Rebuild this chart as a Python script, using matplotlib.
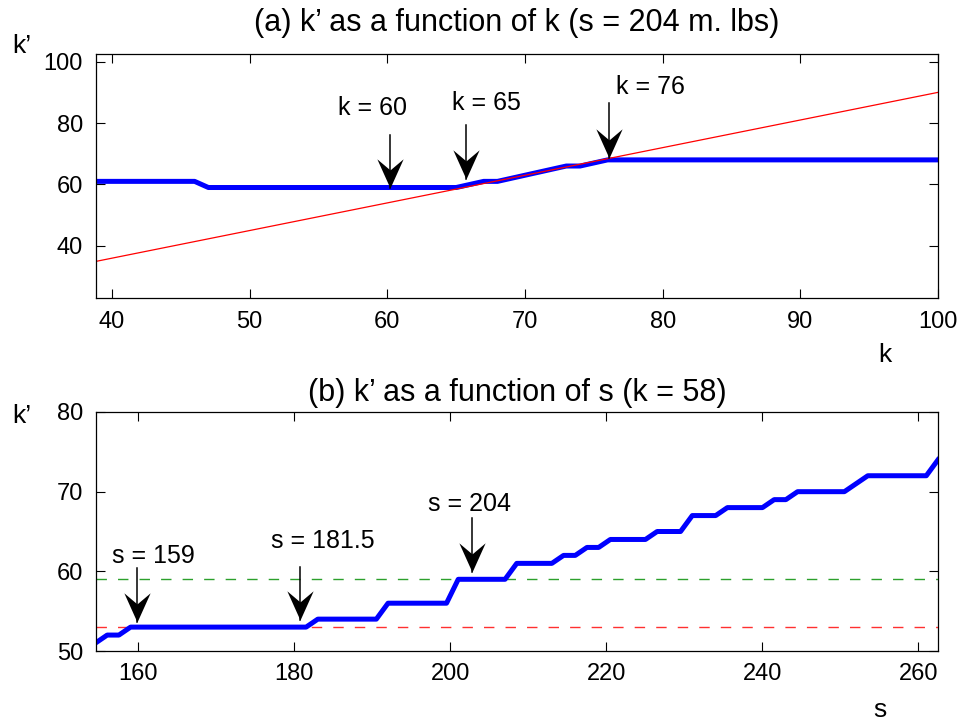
import matplotlib
matplotlib.use("Agg")
import matplotlib.pyplot as plt
from matplotlib.path import Path

plt.rcParams['font.family'] = ['Liberation Sans', 'DejaVu Sans']

# === (a) k' as a function of k ===
k_a = [38.8, 46, 47, 65, 66, 67, 68, 69, 70, 71, 72, 73, 74, 75, 76, 100]
kp_a = [61, 61, 59, 59, 60, 61, 61, 62, 63, 64, 65, 66, 66, 67, 68, 68]
red_k = [38.8, 100]
red_kp = [34.9, 90]

# annotations: (label, arrow x, tail y, tip y, text x, text y)
notes_a = [
    ("k = 60", 60.2, 76.1, 58.7, 58.9, 84.8),
    ("k = 65", 65.7, 79.4, 61.7, 67.2, 86.4),
    ("k = 76", 76.1, 86.4, 68.5, 79.1, 91.8),
]

# === (b) k' as a function of s ===
s_b = [154.5, 156, 157.5, 159, 181.5, 183, 190.5, 192, 199.5, 201, 207, 208.5,
       213, 214.5, 216, 217.5, 219, 220.5, 225, 226.5, 229.5, 231, 234, 235.5,
       240, 241.5, 243, 244.5, 250.5, 253.5, 261, 262.5]
kp_b = [51, 52, 52, 53, 53, 54, 54, 56, 56, 59, 59, 61, 61, 62, 62, 63, 63, 64,
        64, 65, 65, 67, 67, 68, 68, 69, 69, 70, 70, 72, 72, 74]
green_level = 59
red_level = 53

notes_b = [
    ("s = 159", 159.8, 60.4, 53.7, 161.9, 61.9),
    ("s = 181.5", 180.7, 60.6, 53.9, 183.7, 63.8),
    ("s = 204", 202.7, 66.7, 59.9, 202.5, 68.5),
]

W, H = 963, 725
fig = plt.figure(figsize=(W / 100, H / 100), dpi=100)

ax1 = fig.add_axes([95.5 / W, 1 - 298 / H, 842.5 / W, 244 / H])
ax2 = fig.add_axes([95.5 / W, 1 - 651 / H, 842.5 / W, 239 / H])

# arrow head with a notched back, tip at the origin pointing down
head = Path([(0, 0), (-0.45, 1), (0, 0.62), (0.45, 1), (0, 0)],
            [Path.MOVETO, Path.LINETO, Path.LINETO, Path.LINETO, Path.CLOSEPOLY])


def style(ax):
    ax.tick_params(direction='in', length=6.5, width=0.8, top=True, right=True,
                   labelsize=17, pad=9)
    for sp in ax.spines.values():
        sp.set_linewidth(0.9)


def arrow(ax, x, y0, y1):
    ax.plot([x, x], [y0, y1], color='black', lw=1.1)
    ax.plot([x], [y1], marker=head, markersize=42, color='black',
            markeredgewidth=0)


# --- top panel ---
ax1.plot(k_a, kp_a, color='blue', lw=3.6, solid_joinstyle='round')
ax1.plot(red_k, red_kp, color='red', lw=0.9)
ax1.set_xlim(38.8, 100)
ax1.set_ylim(23, 102.5)
ax1.set_xticks([40, 50, 60, 70, 80, 90, 100])
ax1.set_yticks([40, 60, 80, 100])
style(ax1)
for label, x, y0, y1, tx, ty in notes_a:
    arrow(ax1, x, y0, y1)
    ax1.text(tx, ty, label, fontsize=18, ha='center', va='center')

# --- bottom panel ---
ax2.axhline(green_level, color='#2ca02c', lw=1.0, dashes=(7.5, 8))
ax2.axhline(red_level, color='#ff3030', lw=1.0, dashes=(7.5, 8))
ax2.plot(s_b, kp_b, color='blue', lw=3.6, solid_joinstyle='round')
ax2.set_xlim(154.5, 262.5)
ax2.set_ylim(50, 80)
ax2.set_xticks([160, 180, 200, 220, 240, 260])
ax2.set_yticks([50, 60, 70, 80])
style(ax2)
for label, x, y0, y1, tx, ty in notes_b:
    arrow(ax2, x, y0, y1)
    ax2.text(tx, ty, label, fontsize=18, ha='center', va='center')

# titles and axis labels
fig.text(517 / W, 1 - 23 / H, "(a) k\u2019 as a function of k (s = 204 m. lbs)",
         fontsize=22, ha='center', va='center')
fig.text(517 / W, 1 - 393 / H, "(b) k\u2019 as a function of s (k = 58)",
         fontsize=22, ha='center', va='center')
fig.text(22 / W, 1 - 46 / H, "k\u2019", fontsize=19, ha='center', va='center')
fig.text(22 / W, 1 - 416 / H, "k\u2019", fontsize=19, ha='center', va='center')
fig.text(885 / W, 1 - 355 / H, "k", fontsize=19, ha='center', va='center')
fig.text(880 / W, 1 - 710 / H, "s", fontsize=19, ha='center', va='center')

fig.savefig("out.png", dpi=100)
